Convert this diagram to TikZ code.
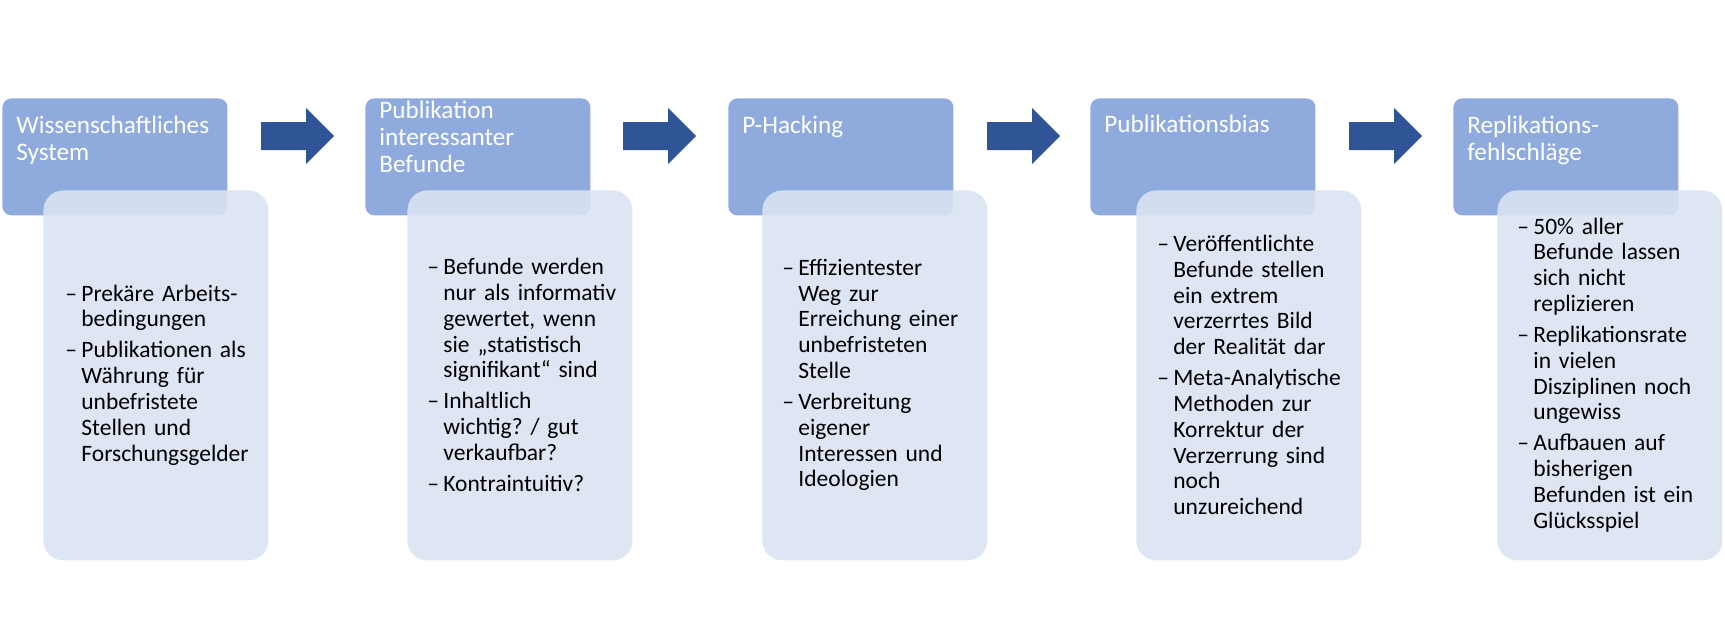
\documentclass[tikz,border=0pt]{standalone}
\usepackage{fontspec}
\setmainfont{Carlito}
\frenchspacing
\definecolor{hdrc}{HTML}{8FAADC}
\definecolor{bodyc}{HTML}{DAE3F3}
\definecolor{arrowc}{HTML}{2F5597}
\newcommand\bfirst[1]{\hangindent=8pt\hangafter=1\noindent\makebox[8pt][l]{–}#1\par}
\newcommand\bnext[1]{\vskip2.6pt\hangindent=8pt\hangafter=1\noindent\makebox[8pt][l]{–}#1\par}
\begin{document}
\begin{tikzpicture}[x=0.5pt,y=-0.5pt,
  hdrbox/.style={fill=hdrc, rounded corners=4.5pt, minimum width=112.5pt, minimum height=58.5pt, anchor=north west, inner sep=0pt},
  bodybox/.style={fill=bodyc, fill opacity=0.9, rounded corners=10pt, minimum width=112.5pt, minimum height=185pt, anchor=north west, inner sep=0pt},
  hdrtext/.style={anchor=north west, inner sep=0pt, text width=105pt, align=left, text=white, font=\fontsize{12.6}{13.6}\selectfont\frenchspacing},
  bodytext/.style={anchor=west, inner sep=0pt, text width=102pt, align=left, text=black, font=\fontsize{11.75}{12.9}\selectfont\frenchspacing},
  blockarrow/.style={fill=arrowc}]
\useasboundingbox (0,0) rectangle (1725,643);
% headers
\node[hdrbox] (h1) at (2,98) {};
\node[hdrbox] (h2) at (365,98) {};
\node[hdrbox] (h3) at (728,98) {};
\node[hdrbox] (h4) at (1090,98) {};
\node[hdrbox] (h5) at (1453,98) {};
% bodies
\node[bodybox] (b1) at (43,190) {};
\node[bodybox] (b2) at (407,190) {};
\node[bodybox] (b3) at (762,190) {};
\node[bodybox] (b4) at (1136,190) {};
\node[bodybox] (b5) at (1497,190) {};
% header texts
\node[hdrtext] (t1) at (16,114) {\strut Wissenschaftliches\newline System};
\node[hdrtext] (t2) at (379,99) {\strut Publikation\newline interessanter\newline Befunde};
\node[hdrtext] (t3) at (742,114) {\strut P-Hacking};
\node[hdrtext] (t4) at (1104,113) {\strut Publikationsbias};
\node[hdrtext] (t5) at (1467,114) {\strut Replikations-\newline fehlschläge};
% body texts
\node[bodytext] (c1) at (65,375) {%
  \bfirst{Prekäre Arbeits-\newline bedingungen}%
  \bnext{Publikationen als\newline Währung für\newline unbefristete\newline Stellen und\newline Forschungsgelder}};
\node[bodytext] (c2) at (427,375) {%
  \bfirst{Befunde werden\newline nur als informativ\newline gewertet, wenn\newline sie „statistisch\newline signifikant“ sind}%
  \bnext{Inhaltlich\newline wichtig? / gut\newline verkaufbar?}%
  \bnext{Kontraintuitiv?}};
\node[bodytext] (c3) at (782,375) {%
  \bfirst{Effizientester\newline Weg zur\newline Erreichung einer\newline unbefristeten\newline Stelle}%
  \bnext{Verbreitung\newline eigener\newline Interessen und\newline Ideologien}};
\node[bodytext] (c4) at (1157,375) {%
  \bfirst{Veröffentlichte\newline Befunde stellen\newline ein extrem\newline verzerrtes Bild\newline der Realität dar}%
  \bnext{Meta-Analytische\newline Methoden zur\newline Korrektur der\newline Verzerrung sind\newline noch\newline unzureichend}};
\node[bodytext] (c5) at (1517,375) {%
  \bfirst{50\% aller\newline Befunde lassen\newline sich nicht\newline replizieren}%
  \bnext{Replikationsrate\newline in vielen\newline Disziplinen noch\newline ungewiss}%
  \bnext{Aufbauen auf\newline bisherigen\newline Befunden ist ein\newline Glücksspiel}};
% block arrows
\foreach \x in {261,623,987,1349}
  \fill[blockarrow] (\x,122) -- (\x+45,122) -- (\x+45,108) -- (\x+73,136) -- (\x+45,164) -- (\x+45,150) -- (\x,150) -- cycle;
\end{tikzpicture}
\end{document}
